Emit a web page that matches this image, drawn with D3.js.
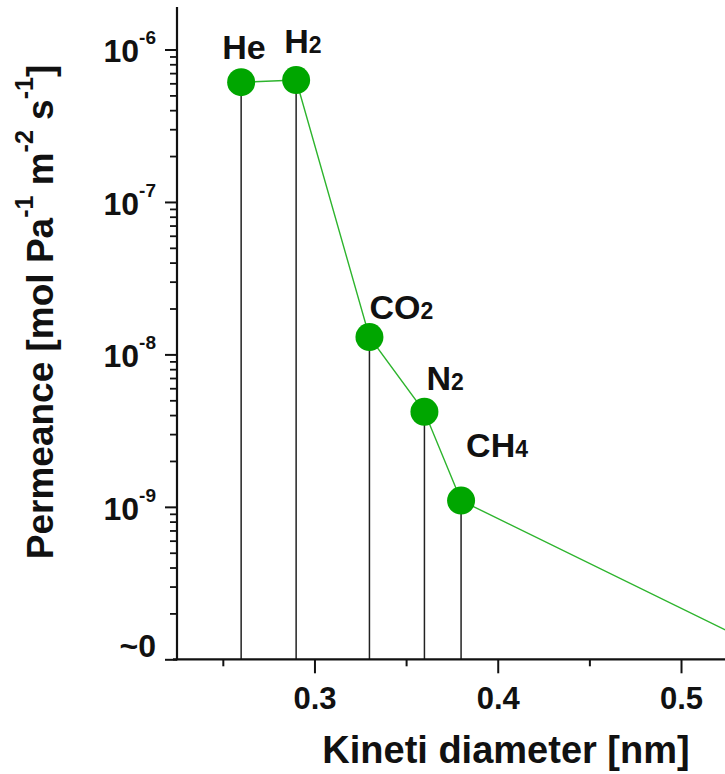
<!DOCTYPE html>
<html>
<head>
<meta charset="utf-8">
<script src="https://cdnjs.cloudflare.com/ajax/libs/d3/7.8.5/d3.min.js"></script>
<style>
body { margin: 0; background: #fff; }
text { font-family: "Liberation Sans", Arial, sans-serif; font-weight: bold; fill: #111; }
</style>
</head>
<body>
<div id="chart"></div>
<script>
// gases, kinetic diameter (nm) and permeance (mol Pa-1 m-2 s-1)
var gases = ["He", "H2", "CO2", "N2", "CH4", "SF6"];
var diameters = [0.26, 0.29, 0.33, 0.36, 0.38, 0.55];
var permeances = [6.1e-7, 6.3e-7, 1.3e-8, 4.2e-9, 1.1e-9, 1.1e-10];

var xTicks = [0.3, 0.4, 0.5];
var xMinorTicks = [0.25, 0.35, 0.45];
var yTicks = [1e-10, 1e-9, 1e-8, 1e-7, 1e-6];
var yTickExponents = ["~0", "-9", "-8", "-7", "-6"];

// label nudges relative to each marker (layout only)
var labelNudge = {
  He: [-19, -23],
  H2: [-12, -27],
  CO2: [0, -18],
  N2: [2, -22],
  CH4: [5, -44]
};

var width = 725,
  height = 774;

var svg = d3.select("#chart")
  .append("svg")
  .attr("width", width)
  .attr("height", height)

var x = d3.scaleLinear().domain([0.225, 0.524]).range([177, 725])
var y = d3.scaleLog().domain([1e-10, 1.9e-6]).range([659.3, 7])

var data = gases.map(function(g, i) {
  return { name: g, d: diameters[i], p: permeances[i] };
});

// stems
svg.selectAll(".stem")
  .data(data)
  .enter().append("line")
  .attr("class", "stem")
  .attr("x1", function(d) { return x(d.d); })
  .attr("x2", function(d) { return x(d.d); })
  .attr("y1", function(d) { return y(d.p); })
  .attr("y2", y(1e-10))
  .attr("stroke", "#222")
  .attr("stroke-width", 1.5)

// connecting line
var line = d3.line()
  .x(function(d) { return x(d.d); })
  .y(function(d) { return y(d.p); })

svg.append("path")
  .datum(data)
  .attr("d", line)
  .attr("fill", "none")
  .attr("stroke", "#2db42d")
  .attr("stroke-width", 1.4)

svg.selectAll(".dot")
  .data(data)
  .enter().append("circle")
  .attr("class", "dot")
  .attr("cx", function(d) { return x(d.d); })
  .attr("cy", function(d) { return y(d.p); })
  .attr("r", 14)
  .attr("fill", "#00a600")

// gas labels, only those inside the visible x range
var labels = svg.selectAll(".gas")
  .data(data.filter(function(d) { return labelNudge[d.name]; }))
  .enter().append("text")
  .attr("class", "gas")
  .attr("x", function(d) { return x(d.d) + labelNudge[d.name][0]; })
  .attr("y", function(d) { return y(d.p) + labelNudge[d.name][1]; })
  .style("font-size", "34px")

labels.each(function(d) {
  var m = d.name.match(/^([A-Za-z]+)(\d*)$/);
  var t = d3.select(this);
  t.append("tspan").text(m[1]);
  if (m[2]) t.append("tspan").style("font-size", "23px").text(m[2]);
});

// x axis
var xAxis = svg.append("g")
  .attr("transform", "translate(0," + y(1e-10) + ")")
  .call(d3.axisBottom(x).tickValues(xTicks).tickSize(14).tickSizeOuter(0).tickFormat(d3.format(".1f")))

xAxis.select(".domain").remove()
xAxis.selectAll(".tick line").attr("stroke", "#111").attr("stroke-width", 2)
xAxis.selectAll(".tick text")
  .attr("y", 50)
  .attr("dy", 0)
  .style("font-size", "31px")
  .style("font-family", "'Liberation Sans', Arial, sans-serif")
  .style("font-weight", "bold")
  .attr("fill", "#111")

var xMinor = svg.append("g")
  .attr("transform", "translate(0," + y(1e-10) + ")")
  .call(d3.axisBottom(x).tickValues(xMinorTicks).tickSize(7).tickSizeOuter(0).tickFormat(""))
xMinor.select(".domain").remove()
xMinor.selectAll(".tick line").attr("stroke", "#111").attr("stroke-width", 2)

svg.append("line")
  .attr("x1", x(0.225) - 4)
  .attr("x2", width)
  .attr("y1", y(1e-10))
  .attr("y2", y(1e-10))
  .attr("stroke", "#111")
  .attr("stroke-width", 2.2)

// y axis
var yAxis = svg.append("g")
  .attr("transform", "translate(" + x(0.225) + ",0)")
  .call(d3.axisLeft(y).tickValues(yTicks).tickSize(12).tickSizeOuter(0).tickFormat(""))
yAxis.select(".domain").remove()
yAxis.selectAll(".tick line").attr("stroke", "#111").attr("stroke-width", 2)

var minorY = y.ticks().filter(function(v) {
  return yTicks.indexOf(v) < 0 && Math.abs(Math.log10(v) - Math.round(Math.log10(v))) > 1e-6;
});
var yMinor = svg.append("g")
  .attr("transform", "translate(" + x(0.225) + ",0)")
  .call(d3.axisLeft(y).tickValues(minorY).tickSize(7).tickSizeOuter(0).tickFormat(""))
yMinor.select(".domain").remove()
yMinor.selectAll(".tick line").attr("stroke", "#111").attr("stroke-width", 1.8)

svg.append("line")
  .attr("x1", x(0.225))
  .attr("x2", x(0.225))
  .attr("y1", y.range()[1])
  .attr("y2", y(1e-10) + 1)
  .attr("stroke", "#111")
  .attr("stroke-width", 2.2)

yTicks.forEach(function(v, i) {
  var t = svg.append("text")
    .attr("text-anchor", "end")
    .attr("x", 156)
    .style("font-size", "32px");
  if (yTickExponents[i] === "~0") {
    t.attr("y", y(v) - 2).text("~0");
  } else {
    t.attr("y", y(v) + 13);
    t.append("tspan").text("10");
    t.append("tspan").attr("dy", -18).style("font-size", "19px").text(yTickExponents[i]);
  }
});

// axis titles
svg.append("text")
  .attr("x", 506)
  .attr("y", 763)
  .attr("text-anchor", "middle")
  .style("font-size", "38px")
  .text("Kineti diameter [nm]")

var yTitle = svg.append("text")
  .attr("transform", "translate(53,312) rotate(-90)")
  .attr("text-anchor", "middle")
  .style("font-size", "37px")

yTitle.append("tspan").text("Permeance [mol Pa")
yTitle.append("tspan").attr("dy", -20).style("font-size", "25px").text("-1")
yTitle.append("tspan").attr("dy", 20).text(" m")
yTitle.append("tspan").attr("dy", -20).style("font-size", "25px").text("-2")
yTitle.append("tspan").attr("dy", 20).text(" s")
yTitle.append("tspan").attr("dy", -20).style("font-size", "25px").text("-1")
yTitle.append("tspan").attr("dy", 20).text("]")
</script>
</body>
</html>
